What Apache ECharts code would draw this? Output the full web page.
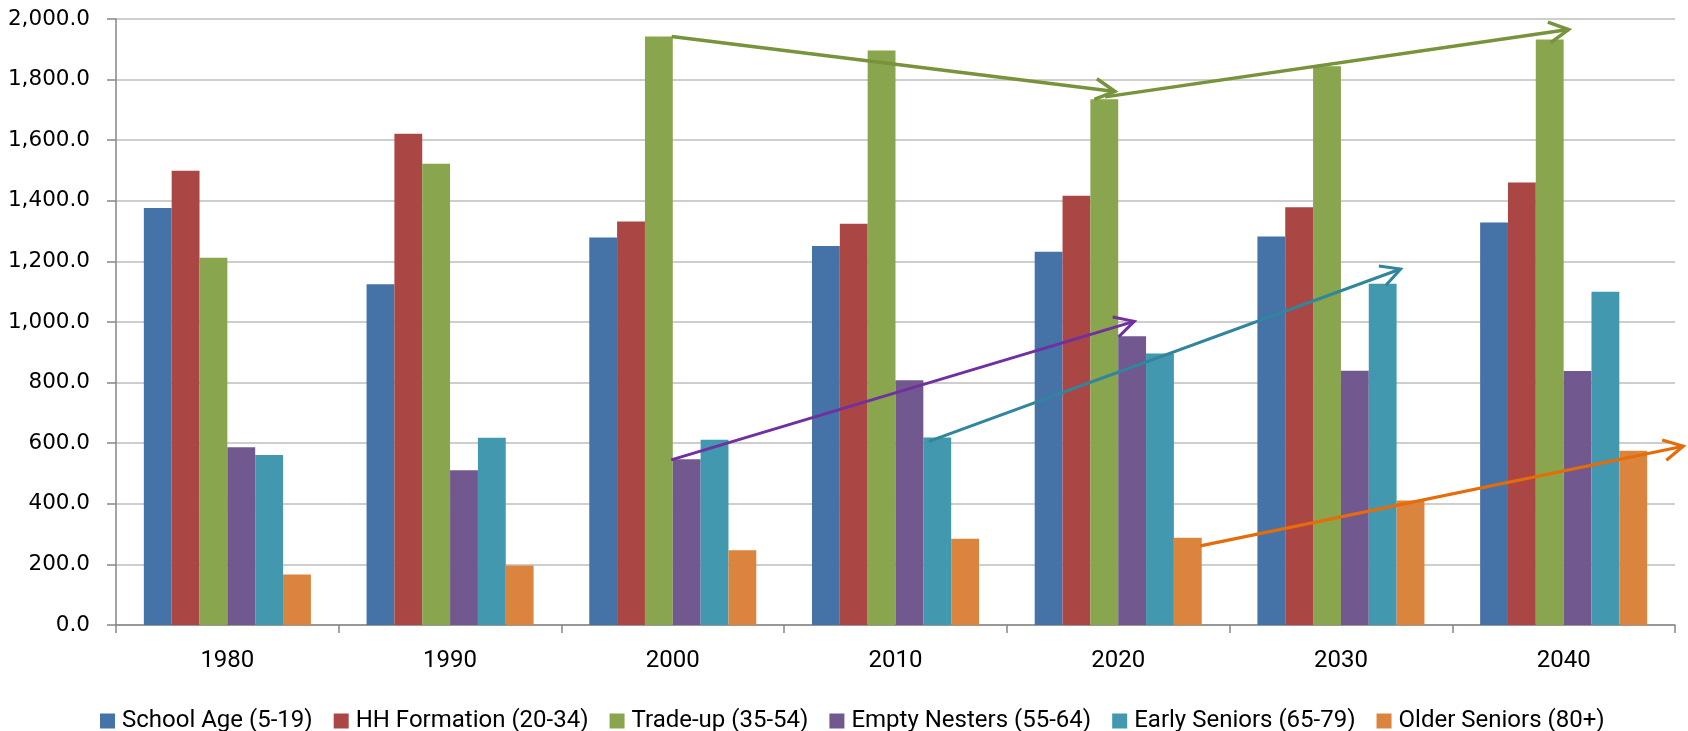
<!DOCTYPE html>
<html>
<head>
<meta charset="utf-8">
<title>Households by Life Stage</title>
<script src="https://cdn.jsdelivr.net/npm/echarts@6/dist/echarts.min.js"></script>
<style>
  html, body { margin: 0; padding: 0; background: #ffffff; }
  #chart { width: 1688px; height: 731px; }
</style>
</head>
<body>
<div id="chart"></div>
<script>
// Decades on the horizontal axis
const years = ['1980', '1990', '2000', '2010', '2020', '2030', '2040'];

// Households (thousands) by life stage
const schoolAge     = [1376, 1125, 1279, 1251, 1232, 1282, 1328];
const hhFormation   = [1499, 1621, 1332, 1324, 1417, 1379, 1460];
const tradeUp       = [1212, 1522, 1942, 1896, 1735, 1844, 1932];
const emptyNesters  = [587, 511, 547, 808, 953, 839, 838];
const earlySeniors  = [561, 618, 611, 619, 896, 1126, 1100];
const olderSeniors  = [167, 196, 247, 285, 288, 411, 575];

const seriesNames = [
  'School Age (5-19)', 'HH Formation (20-34)', 'Trade-up (35-54)',
  'Empty Nesters (55-64)', 'Early Seniors (65-79)', 'Older Seniors (80+)'
];

// Value-axis ticks
const yMin = 0, yMax = 2000, yStep = 200;

// Trend arrows: start/end in (decade-slot, value) units; slot i spans [i, i+1]
const arrowFromX = [2.495, 4.441, 2.493, 3.650, 4.869];
const arrowFromY = [1942, 1743, 545, 606, 261];
const arrowToX   = [4.485, 6.522, 4.572, 5.768, 7.037];
const arrowToY   = [1761, 1965, 1002, 1175, 590];

// Styling
const barColors   = ['#4572A7', '#AA4643', '#89A54E', '#71588F', '#4198AF', '#DB843D'];
const arrowColors = ['#77933C', '#77933C', '#7030A0', '#31859C', '#E46C0A'];
const arrowWidths = [3.5, 3.5, 3, 3, 3.2];

const seriesValues = [schoolAge, hhFormation, tradeUp, emptyNesters, earlySeniors, olderSeniors];

const barSeries = seriesValues.map((vals, i) => ({
  name: seriesNames[i],
  type: 'bar',
  xAxisIndex: 0,
  yAxisIndex: 0,
  data: vals,
  barGap: '0%',
  barCategoryGap: '25%',
  itemStyle: { color: barColors[i] },
  z: 2
}));

const arrowData = arrowFromX.map((x, i) => [x, arrowFromY[i], arrowToX[i], arrowToY[i]]);

const arrowSeries = {
  name: 'trends',
  type: 'custom',
  coordinateSystem: 'cartesian2d',
  xAxisIndex: 1,
  yAxisIndex: 0,
  clip: false,
  silent: true,
  z: 5,
  encode: { x: [0, 2], y: [1, 3] },
  data: arrowData,
  renderItem: function (params, api) {
    const p0 = api.coord([api.value(0), api.value(1)]);
    const p1 = api.coord([api.value(2), api.value(3)]);
    const i = params.dataIndex;
    const ang = Math.atan2(p1[1] - p0[1], p1[0] - p0[0]);
    const headLen = 22, half = 0.49;
    const h1 = [p1[0] - headLen * Math.cos(ang - half), p1[1] - headLen * Math.sin(ang - half)];
    const h2 = [p1[0] - headLen * Math.cos(ang + half), p1[1] - headLen * Math.sin(ang + half)];
    const style = {
      stroke: arrowColors[i],
      lineWidth: arrowWidths[i],
      fill: null,
      lineJoin: 'miter',
      lineCap: 'butt'
    };
    return {
      type: 'group',
      children: [
        { type: 'line', shape: { x1: p0[0], y1: p0[1], x2: p1[0], y2: p1[1] }, style: style },
        { type: 'polyline', shape: { points: [h1, p1, h2] }, style: style }
      ]
    };
  }
};

const chart = echarts.init(document.getElementById('chart'), null, { renderer: 'canvas' });

chart.setOption({
  animation: false,
  backgroundColor: '#ffffff',
  grid: { left: 116, right: 13, top: 19, bottom: 106, containLabel: false },
  legend: {
    data: seriesNames,
    left: 95,
    top: 704,
    itemWidth: 15,
    itemHeight: 15,
    itemGap: 21,
    icon: 'rect',
    textStyle: { fontFamily: 'Roboto', fontSize: 24, color: '#000000', padding: [0, 0, 0, 2] }
  },
  xAxis: [
    {
      type: 'category',
      data: years,
      boundaryGap: true,
      axisLine: { lineStyle: { color: '#868686', width: 1.5 } },
      axisTick: { show: true, length: 8, lineStyle: { color: '#868686', width: 1.5 } },
      axisLabel: { fontFamily: 'Roboto', fontSize: 24, color: '#000000', margin: 24 },
      splitLine: { show: false }
    },
    {
      type: 'value',
      min: 0,
      max: years.length,
      show: false,
      splitLine: { show: false }
    }
  ],
  yAxis: {
    type: 'value',
    min: yMin,
    max: yMax,
    interval: yStep,
    axisLine: { show: true, lineStyle: { color: '#868686', width: 1.5 } },
    axisTick: { show: true, length: 9, lineStyle: { color: '#868686', width: 1.5 } },
    axisLabel: {
      fontFamily: 'DejaVu Sans',
      fontSize: 21.5,
      color: '#000000',
      margin: 26,
      formatter: v => v.toLocaleString('en-US', { minimumFractionDigits: 1, maximumFractionDigits: 1 })
    },
    splitLine: { show: true, lineStyle: { color: '#BEBEBE', width: 1.5 } }
  },
  series: barSeries.concat([arrowSeries])
});
</script>
</body>
</html>
